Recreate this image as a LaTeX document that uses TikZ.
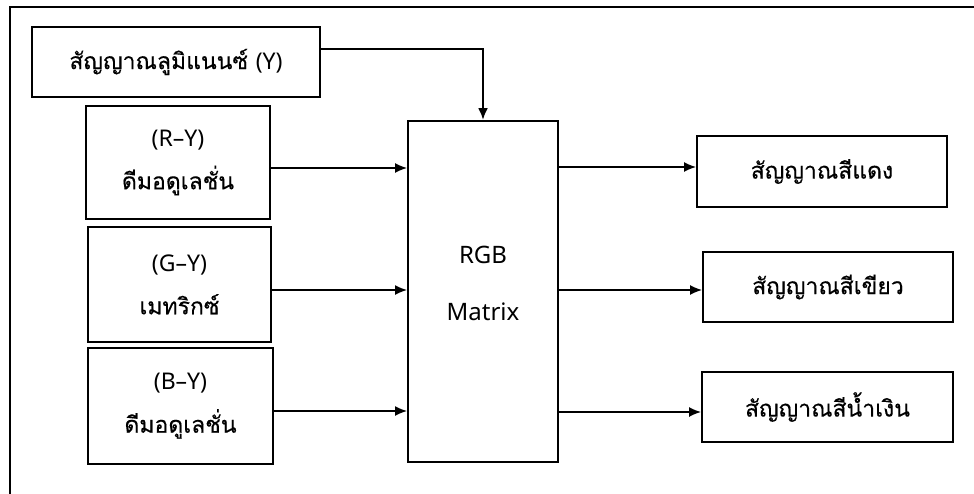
\documentclass[tikz,border=0pt]{standalone}
\usepackage{fontspec}
\newfontfamily\thaifont[Script=Thai,FakeBold=0.35]{Loma}
\newfontfamily\latf{Noto Sans}
\usetikzlibrary{arrows.meta}
\begin{document}
\begin{tikzpicture}[x=1pt,y=-1pt,
  box/.style={draw, line width=1.9pt, inner sep=0pt, align=center,
    font=\thaifont\fontsize{23}{43}\selectfont},
  lat/.style={font=\latf\fontsize{23}{43}\selectfont},
  txt/.style={inner sep=0pt, align=center, font=\latf\fontsize{24}{57}\selectfont},
  conn/.style={line width=1.6pt, -{Latex[length=12pt,width=10pt]}}]
\useasboundingbox (0,0) rectangle (974,493);
\begin{scope}
  \clip (0,0) rectangle (974,493);
  \draw[line width=1.9pt] (10,600) -- (10,7) -- (1100,7);
\end{scope}
\node[box, minimum width=288pt, minimum height=70pt] (Y) at (176,62) {สัญญาณลูมิแนนซ์ {\latf\fontsize{23}{43}\selectfont(Y)}};
\node[box, minimum width=184pt, minimum height=113pt] (RY) at (178,162.5) {{\latf\fontsize{23}{43}\selectfont(R–Y)}\\ดีมอดูเลชั่น};
\node[box, minimum width=183pt, minimum height=115pt] (GY) at (179.5,284.5) {{\latf\fontsize{23}{43}\selectfont(G–Y)}\\เมทริกซ์};
\node[box, minimum width=185pt, minimum height=116pt] (BY) at (180.5,406) {{\latf\fontsize{23}{43}\selectfont(B–Y)}\\ดีมอดูเลชั่น};
\node[box, minimum width=150pt, minimum height=341pt] (M) at (483,291.5) {};
\node[txt] (Mt) at ([yshift=8pt]M.center) {RGB\\Matrix};
\node[box, minimum width=250pt, minimum height=71pt] (R) at (822,171.5) {สัญญาณสีแดง};
\node[box, minimum width=250pt, minimum height=70pt] (G) at (828,287) {สัญญาณสีเขียว};
\node[box, minimum width=251pt, minimum height=70pt] (B) at (827.5,407) {สัญญาณสีน้ำเงิน};
\draw[conn, line width=2.6pt] (Y.east |- 0,49) -| (M.north);
\draw[conn] (RY.east |- 0,168) -- (M.west |- 0,168);
\draw[conn] (GY.east |- 0,290) -- (M.west |- 0,290);
\draw[conn] (BY.east |- 0,411) -- (M.west |- 0,411);
\draw[conn] (M.east |- 0,167) -- (R.west |- 0,167);
\draw[conn] (M.east |- 0,290) -- (G.west |- 0,290);
\draw[conn] (M.east |- 0,412) -- (B.west |- 0,412);
\end{tikzpicture}
\end{document}
